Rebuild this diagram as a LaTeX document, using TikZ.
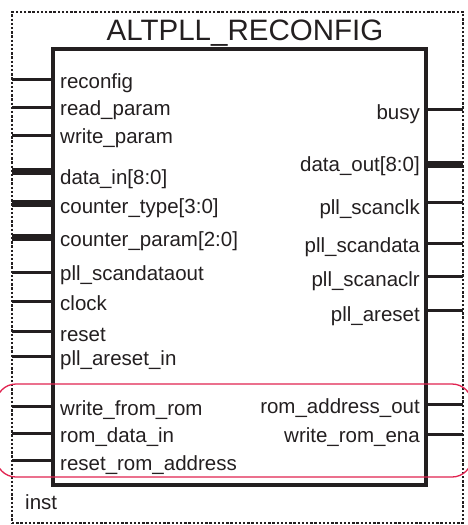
\documentclass[tikz,border=0pt]{standalone}
\usepackage{fontspec}
\setmainfont{Liberation Sans}
\usetikzlibrary{positioning}
\definecolor{inkgray}{RGB}{35,31,32}
\definecolor{romred}{RGB}{225,35,80}
\tikzset {
    block/.style={draw=inkgray, line width=3.2pt, inner sep=0pt,
        minimum width=373pt, minimum height=436pt},
    frame/.style={draw=inkgray, line width=2.8pt, dash pattern=on 2.4pt off 1.8pt,
        inner sep=0pt, minimum width=451pt, minimum height=511pt},
    wire/.style={draw=inkgray, line width=3pt},
    bus/.style={draw=inkgray, line width=7pt},
    lpin/.style={anchor=base west, inner sep=0pt, text=inkgray, yshift=-2.5pt,
        font=\fontsize{20.5}{24}\selectfont},
    rpin/.style={lpin, anchor=base east},
    title/.style={anchor=base, inner sep=0pt, text=inkgray,
        font=\fontsize{29.5}{34}\selectfont},
    romgroup/.style={draw=romred, line width=1.3pt, rounded corners=20pt,
        minimum width=476pt, minimum height=93pt, inner sep=0pt}
}
\begin{document}
\begin{tikzpicture}[x=1pt, y=-1pt]
    \useasboundingbox (0,0) rectangle (468,525);

    \node[frame] (inst) at (237.5,267.5) {};
    \node[block] (blk) at (239.5,267) {};
    \node[title] (ttl) at (245,40) {ALTPLL\_RECONFIG};
    \node[lpin] (instname) at (25,506.5) {inst};

    % inputs (baseline = x-height centre + 5.5)
    \foreach \nm/\ly/\ty/\txt/\kind in {
        reconfig/79/85.5/reconfig/wire,
        readparam/107/113/read\_param/wire,
        writeparam/135/140.5/write\_param/wire,
        datain/171/181.5/data\_in[8:0]/bus,
        countertype/203/210.5/counter\_type[3:0]/bus,
        counterparam/237/243.5/counter\_param[2:0]/bus,
        scandataout/272/277.5/pll\_scandataout/wire,
        clock/301/307.5/clock/wire,
        reset/331/338.5/reset/wire,
        aresetin/356/362.5/pll\_areset\_in/wire,
        writefromrom/406/412.5/write\_from\_rom/wire,
        romdatain/433/439.5/rom\_data\_in/wire,
        resetromaddr/460/467.5/reset\_rom\_address/wire}
    {
        \coordinate (\nm-o) at (12,\ly);
        \draw[\kind] (\nm-o) -- (\nm-o -| blk.west);
        \node[lpin] (\nm) at (60,\ty) {\txt};
    }

    % outputs
    \foreach \nm/\ly/\ty/\txt/\kind in {
        busy/109/116.5/busy/wire,
        dataout/164/169/data\_out[8:0]/bus,
        scanclk/202/211.5/pll\_scanclk/wire,
        scandata/243/249.5/pll\_scandata/wire,
        scanaclr/276/283.5/pll\_scanaclr/wire,
        areset/310/318.5/pll\_areset/wire,
        romaddrout/404/410.5/rom\_address\_out/wire,
        writeromena/434/439.5/write\_rom\_ena/wire}
    {
        \coordinate (\nm-o) at (463,\ly);
        \draw[\kind] (\nm-o -| blk.east) -- (\nm-o);
        \node[rpin] (\nm) at (420,\ty) {\txt};
    }

    \node[romgroup] (romgrp) at (234,430.5) {};
\end{tikzpicture}
\end{document}
